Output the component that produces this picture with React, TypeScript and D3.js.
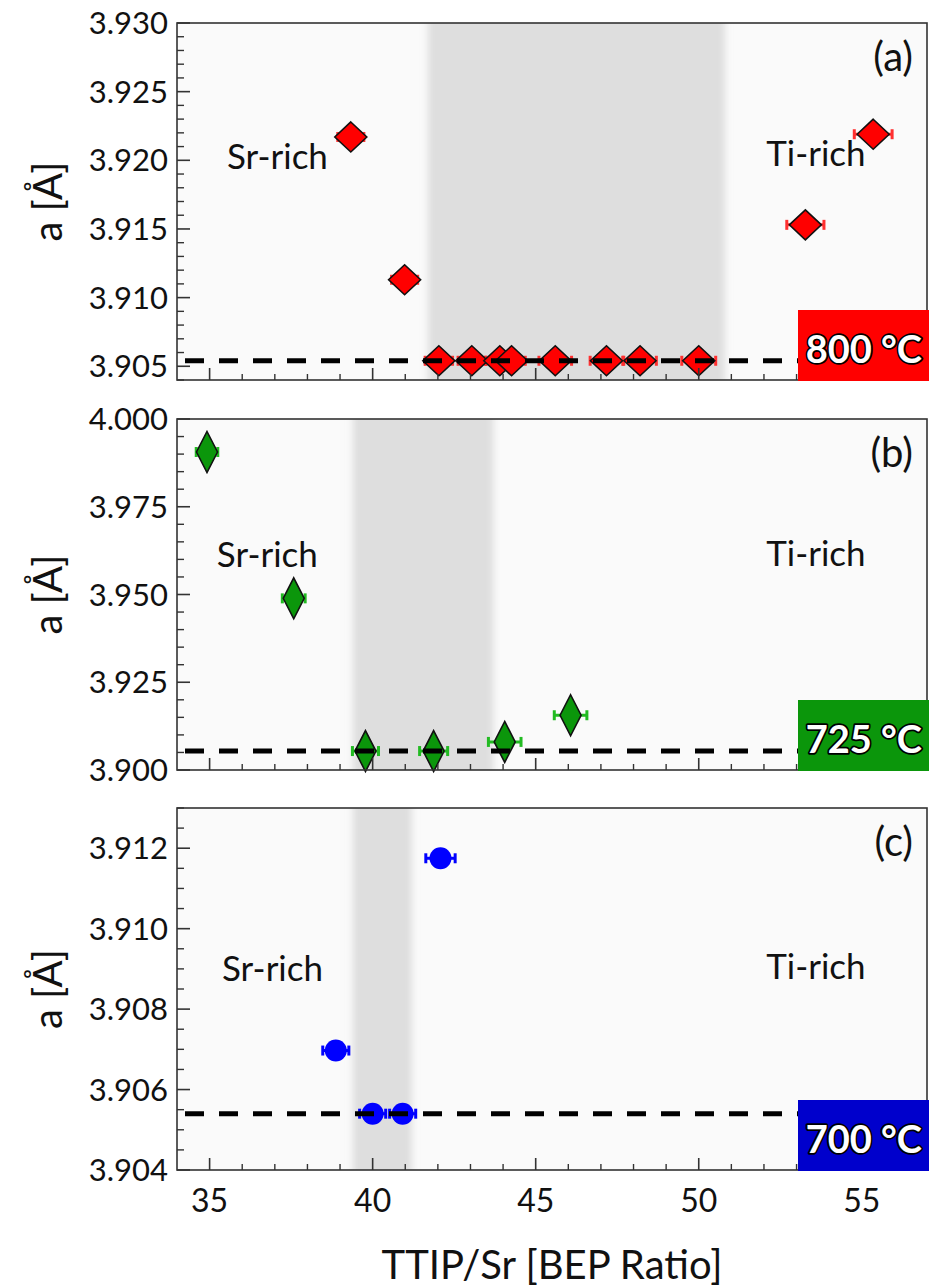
import React from 'react';
import * as d3 from 'd3';

// ---------- data ----------
const xDomain: [number, number] = [34, 57];
const xMajorTicks = [35, 40, 45, 50, 55];
const xMinorTicks = [36, 37, 38, 39, 41, 42, 43, 44, 46, 47, 48, 49, 51, 52, 53, 54, 56];

// panel (a) 800 °C
const aX = [39.33, 40.98, 42.03, 43.04, 43.9, 44.26, 45.6, 47.17, 48.2, 50.0, 53.27, 55.35];
const aY = [3.9217, 3.9113, 3.9054, 3.9054, 3.9054, 3.9054, 3.9054, 3.9054, 3.9054, 3.9054, 3.9153, 3.9219];
const aErr = [0.4, 0.4, 0.42, 0.42, 0.42, 0.42, 0.5, 0.5, 0.5, 0.52, 0.57, 0.58];
const aYDomain: [number, number] = [3.904, 3.93];
const aYMajor = [3.905, 3.91, 3.915, 3.92, 3.925, 3.93];
const aYMinorStep = 0.001;
const aBand: [number, number] = [41.7, 50.8];

// panel (b) 725 °C
const bX = [34.92, 37.58, 39.78, 41.87, 44.05, 46.07];
const bY = [3.9906, 3.9489, 3.9054, 3.9054, 3.908, 3.9156];
const bErr = [0.33, 0.35, 0.4, 0.43, 0.5, 0.5];
const bYDomain: [number, number] = [3.9, 4.0];
const bYMajor = [3.9, 3.925, 3.95, 3.975, 4.0];
const bYMinorStep = 0.005;
const bBand: [number, number] = [39.4, 43.7];

// panel (c) 700 °C
const cX = [38.87, 40.0, 40.92, 42.08];
const cY = [3.90697, 3.9054, 3.9054, 3.91175];
const cErr = [0.4, 0.4, 0.4, 0.45];
const cYDomain: [number, number] = [3.904, 3.913];
const cYMajor = [3.904, 3.906, 3.908, 3.91, 3.912];
const cYMinorStep = 0.0005;
const cBand: [number, number] = [39.4, 41.2];

const refLine = 3.9054;

const panelLetters = ['(a)', '(b)', '(c)'];
const temps = ['800 °C', '725 °C', '700 °C'];
const srRichPos = [[35.53, 3.9194], [35.22, 3.9577], [35.38, 3.90869]];
const tiRichPos = [[52.07, 3.9196], [52.07, 3.9582], [52.07, 3.90874]];

const xTitle = 'TTIP/Sr [BEP Ratio]';
const yTitle = 'a [Å]';

// ---------- layout ----------
const W = 929;
const H = 1288;
const LEFT = 177;
const RIGHT = 927;
const FONT = "Lato, 'Open Sans', sans-serif";

type Panel = {
  top: number;
  bottom: number;
  xs: number[];
  ys: number[];
  errs: number[];
  yDomain: [number, number];
  yMajor: number[];
  yMinorStep: number;
  band: [number, number];
  marker: 'diamond' | 'tallDiamond' | 'circle';
  fill: string;
  errColor: string;
  boxColor: string;
  showXLabels: boolean;
};

const panels: Panel[] = [
  { top: 23, bottom: 380, xs: aX, ys: aY, errs: aErr, yDomain: aYDomain, yMajor: aYMajor, yMinorStep: aYMinorStep, band: aBand, marker: 'diamond', fill: '#ff0000', errColor: '#ff3030', boxColor: '#ff0000', showXLabels: false },
  { top: 419, bottom: 770, xs: bX, ys: bY, errs: bErr, yDomain: bYDomain, yMajor: bYMajor, yMinorStep: bYMinorStep, band: bBand, marker: 'tallDiamond', fill: '#0b960b', errColor: '#22bb22', boxColor: '#0b960b', showXLabels: false },
  { top: 808, bottom: 1170, xs: cX, ys: cY, errs: cErr, yDomain: cYDomain, yMajor: cYMajor, yMinorStep: cYMinorStep, band: cBand, marker: 'circle', fill: '#0000ff', errColor: '#0000ff', boxColor: '#0000cc', showXLabels: true },
];

const fmt = d3.format('.3f');

function PanelView({ p, i }: { p: Panel; i: number }) {
  const x = d3.scaleLinear().domain(xDomain).range([LEFT, RIGHT]);
  const y = d3.scaleLinear().domain(p.yDomain).range([p.bottom, p.top]);
  const nMinor = Math.round((p.yDomain[1] - p.yDomain[0]) / p.yMinorStep);
  const yMinor = d3.range(0, nMinor + 1).map((k) => p.yDomain[0] + k * p.yMinorStep)
    .filter((v) => !p.yMajor.some((m) => Math.abs(m - v) < p.yMinorStep / 10));
  const boxLeft = 798;
  const boxTop = p.bottom - 70;
  const mid = (p.top + p.bottom) / 2;

  const marker = (cx: number, cy: number, k: number) => {
    if (p.marker === 'circle') {
      return <circle key={'m' + k} cx={cx} cy={cy} r={11} fill={p.fill} />;
    }
    const w = p.marker === 'diamond' ? 16 : 10.5;
    const h = p.marker === 'diamond' ? 15 : 20.5;
    return (
      <path key={'m' + k} d={`M${cx},${cy - h}L${cx + w},${cy}L${cx},${cy + h}L${cx - w},${cy}Z`}
        fill={p.fill} stroke="#111" strokeWidth={1.6} strokeLinejoin="miter" />
    );
  };

  return (
    <g>
      <defs>
        <clipPath id={'clip' + i}>
          <rect x={LEFT} y={p.top} width={RIGHT - LEFT} height={p.bottom - p.top} />
        </clipPath>
        <filter id={'blur' + i} x="-20%" y="0%" width="140%" height="100%">
          <feGaussianBlur stdDeviation="3.5 0" />
        </filter>
      </defs>
      <rect x={LEFT} y={p.top} width={RIGHT - LEFT} height={p.bottom - p.top} fill="#fafafa" />
      <g clipPath={`url(#clip${i})`}>
        <rect x={x(p.band[0])} y={p.top} width={x(p.band[1]) - x(p.band[0])} height={p.bottom - p.top}
          fill="#dedede" filter={`url(#blur${i})`} />
      </g>
      {/* error bars */}
      {p.xs.map((xv, k) => {
        const cy = y(p.ys[k]);
        const x0 = x(xv - p.errs[k]);
        const x1 = x(xv + p.errs[k]);
        return (
          <g key={'e' + k} stroke={p.errColor} strokeWidth={3}>
            <line x1={x0} x2={x1} y1={cy} y2={cy} />
            <line x1={x0} x2={x0} y1={cy - 5} y2={cy + 5} />
            <line x1={x1} x2={x1} y1={cy - 5} y2={cy + 5} />
          </g>
        );
      })}
      {p.xs.map((xv, k) => marker(x(xv), y(p.ys[k]), k))}
      {/* reference line */}
      <line x1={LEFT + 8} x2={boxLeft} y1={y(refLine)} y2={y(refLine)} stroke="#000" strokeWidth={5}
        strokeDasharray="19 15" />
      {/* annotations */}
      <text x={x(srRichPos[i][0])} y={y(srRichPos[i][1])} fontFamily={FONT} fontSize={35} fill="#111">Sr-rich</text>
      <text x={x(tiRichPos[i][0])} y={y(tiRichPos[i][1])} fontFamily={FONT} fontSize={35} fill="#111">Ti-rich</text>
      <text x={913} y={p.top + 48} textAnchor="end" fontFamily={FONT} fontSize={40} fill="#111">{panelLetters[i]}</text>
      {/* frame */}
      <rect x={LEFT} y={p.top} width={RIGHT - LEFT} height={p.bottom - p.top} fill="none" stroke="#333" strokeWidth={1.6} />
      {/* x ticks */}
      {xMajorTicks.map((t) => (
        <line key={'xM' + t} x1={x(t)} x2={x(t)} y1={p.bottom} y2={p.bottom - 12} stroke="#333" strokeWidth={1.6} />
      ))}
      {xMinorTicks.map((t) => (
        <line key={'xm' + t} x1={x(t)} x2={x(t)} y1={p.bottom} y2={p.bottom - 6} stroke="#333" strokeWidth={1.4} />
      ))}
      {/* y ticks */}
      {p.yMajor.map((t) => (
        <line key={'yM' + t} x1={LEFT} x2={LEFT + 13} y1={y(t)} y2={y(t)} stroke="#333" strokeWidth={1.6} />
      ))}
      {yMinor.map((t, k) => (
        <line key={'ym' + k} x1={LEFT} x2={LEFT + 7} y1={y(t)} y2={y(t)} stroke="#333" strokeWidth={1.4} />
      ))}
      {p.yMajor.map((t) => (
        <text key={'yl' + t} x={LEFT - 9} y={y(t)} dy="0.36em" textAnchor="end" fontFamily={FONT} fontSize={31} fill="#111">
          {fmt(t)}
        </text>
      ))}
      {p.showXLabels && xMajorTicks.map((t) => (
        <text key={'xl' + t} x={x(t)} y={p.bottom + 42} textAnchor="middle" fontFamily={FONT} fontSize={32} fill="#111">{t}</text>
      ))}
      {/* y title */}
      <text transform={`translate(62,${mid}) rotate(-90)`} textAnchor="middle" fontFamily={FONT} fontSize={40} fill="#111">
        {yTitle}
      </text>
      {/* temperature box */}
      <rect x={boxLeft} y={boxTop} width={W - boxLeft} height={p.bottom - boxTop + 1} fill={p.boxColor} />
      <text x={922} y={p.bottom - 17} textAnchor="end" fontFamily={FONT} fontWeight="bold" fontSize={38}
        fill="#fff" stroke="#000" strokeWidth={3.5} paintOrder="stroke" strokeLinejoin="round">
        {temps[i]}
      </text>
    </g>
  );
}

export default function App() {
  return (
    <svg width={W} height={H} viewBox={`0 0 ${W} ${H}`} style={{ position: 'absolute', left: 0, top: 0, display: 'block', background: '#fff' }}>
      <rect x={0} y={0} width={W} height={H} fill="#fff" />
      {panels.map((p, i) => <PanelView key={i} p={p} i={i} />)}
      <text x={(LEFT + RIGHT) / 2} y={1279} textAnchor="middle" fontFamily={FONT} fontSize={40} fill="#111">{xTitle}</text>
    </svg>
  );
}
